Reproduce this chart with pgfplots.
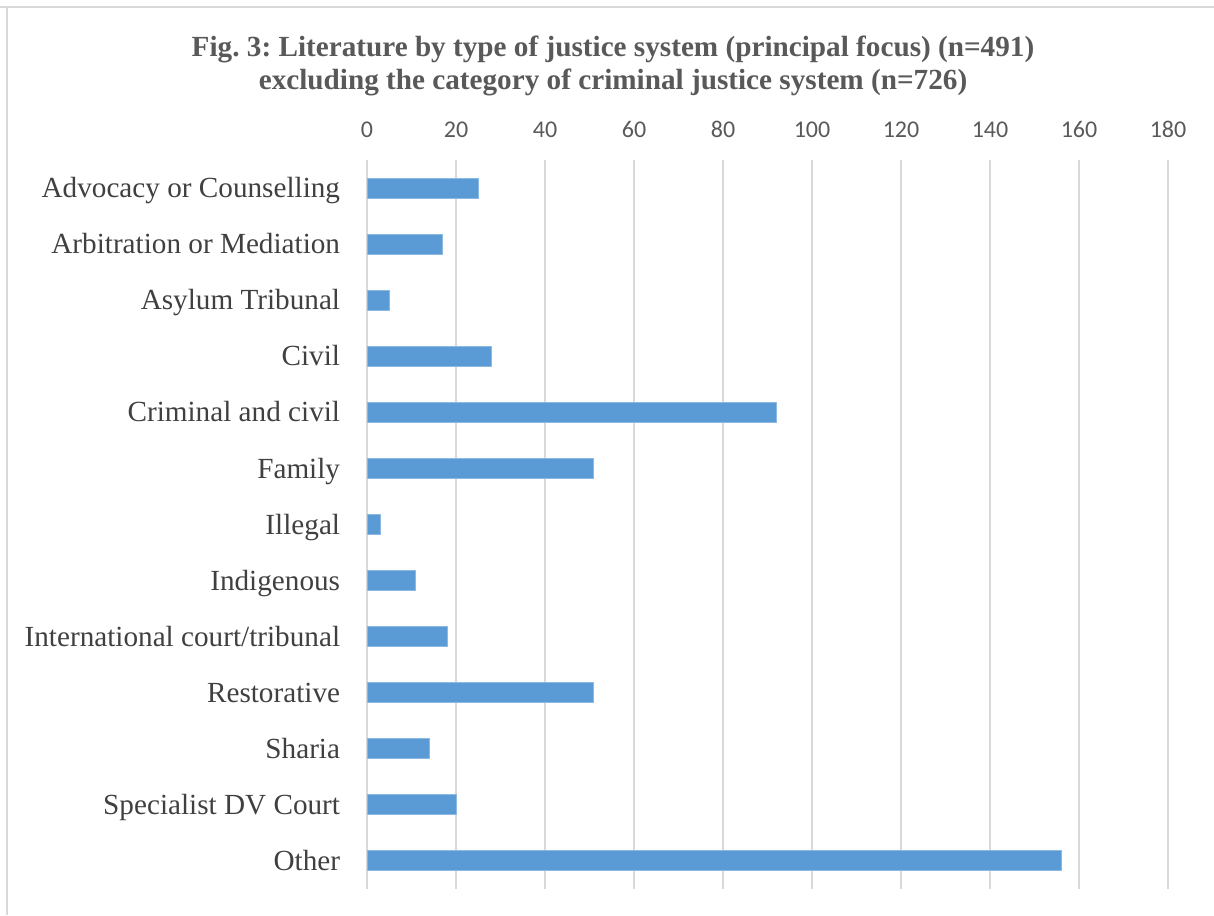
\documentclass[border=0pt]{standalone}
\usepackage{pgfplots}
\pgfplotsset{compat=1.18}
\usepackage{fontspec}
\setmainfont{Liberation Serif}
\newfontfamily\calibri{Carlito}
\frenchspacing
\definecolor{barblue}{HTML}{5B9BD5}
\definecolor{gridgray}{HTML}{D9D9D9}
\definecolor{ticktext}{HTML}{595959}
\definecolor{labeltext}{HTML}{404040}
\definecolor{titletext}{HTML}{595959}
\begin{document}
\begin{tikzpicture}
\useasboundingbox (0,0) rectangle (607pt,457.5pt);
\draw[gridgray, line width=1pt] (0,454pt) -- (607pt,454pt);
\draw[gridgray, line width=1pt] (3.5pt,454pt) -- (3.5pt,0);
\node[font=\bfseries\fontsize{14.6}{16.5}\selectfont, text=titletext, align=center] at (306.5pt,424.5pt)
  {Fig. 3: Literature by type of justice system (principal focus) (n=491)\\excluding the category of criminal justice system (n=726)};
\begin{axis}[
  at={(183.5pt,13pt)}, anchor=south west,
  scale only axis, width=400.5pt, height=364.5pt,
  xbar, bar width=10pt,
  xmin=0, xmax=180,
  ymin=-0.5, ymax=12.5, y dir=reverse,
  xtick={0,20,...,180},
  ytick={0,...,12},
  yticklabels={Advocacy or Counselling, Arbitration or Mediation, Asylum Tribunal, Civil, Criminal and civil, Family, Illegal, Indigenous, International court/tribunal, Restorative, Sharia, Specialist DV Court, Other},
  xticklabel pos=top,
  xmajorgrids, grid style={gridgray, line width=1pt},
  axis line style={draw=none},
  tick style={draw=none},
  /pgf/number format/assume math mode=true,
  xticklabel style={font=\calibri\fontsize{12}{14}\selectfont, text=ticktext, anchor=base, inner sep=0pt},
  xticklabel shift=11.2pt,
  yticklabel style={font=\fontsize{14.6}{17}\selectfont, text=labeltext, anchor=base east, inner sep=0pt, yshift=-4.8pt},
  yticklabel shift=9pt,
  clip=false,
]
\addplot[fill=barblue, draw=barblue!70!white, line width=0.5pt] coordinates {
  (25,0) (17,1) (5,2) (28,3) (92,4) (51,5) (3,6) (11,7) (18,8) (51,9) (14,10) (20,11) (156,12)
};
\end{axis}
\end{tikzpicture}
\end{document}
